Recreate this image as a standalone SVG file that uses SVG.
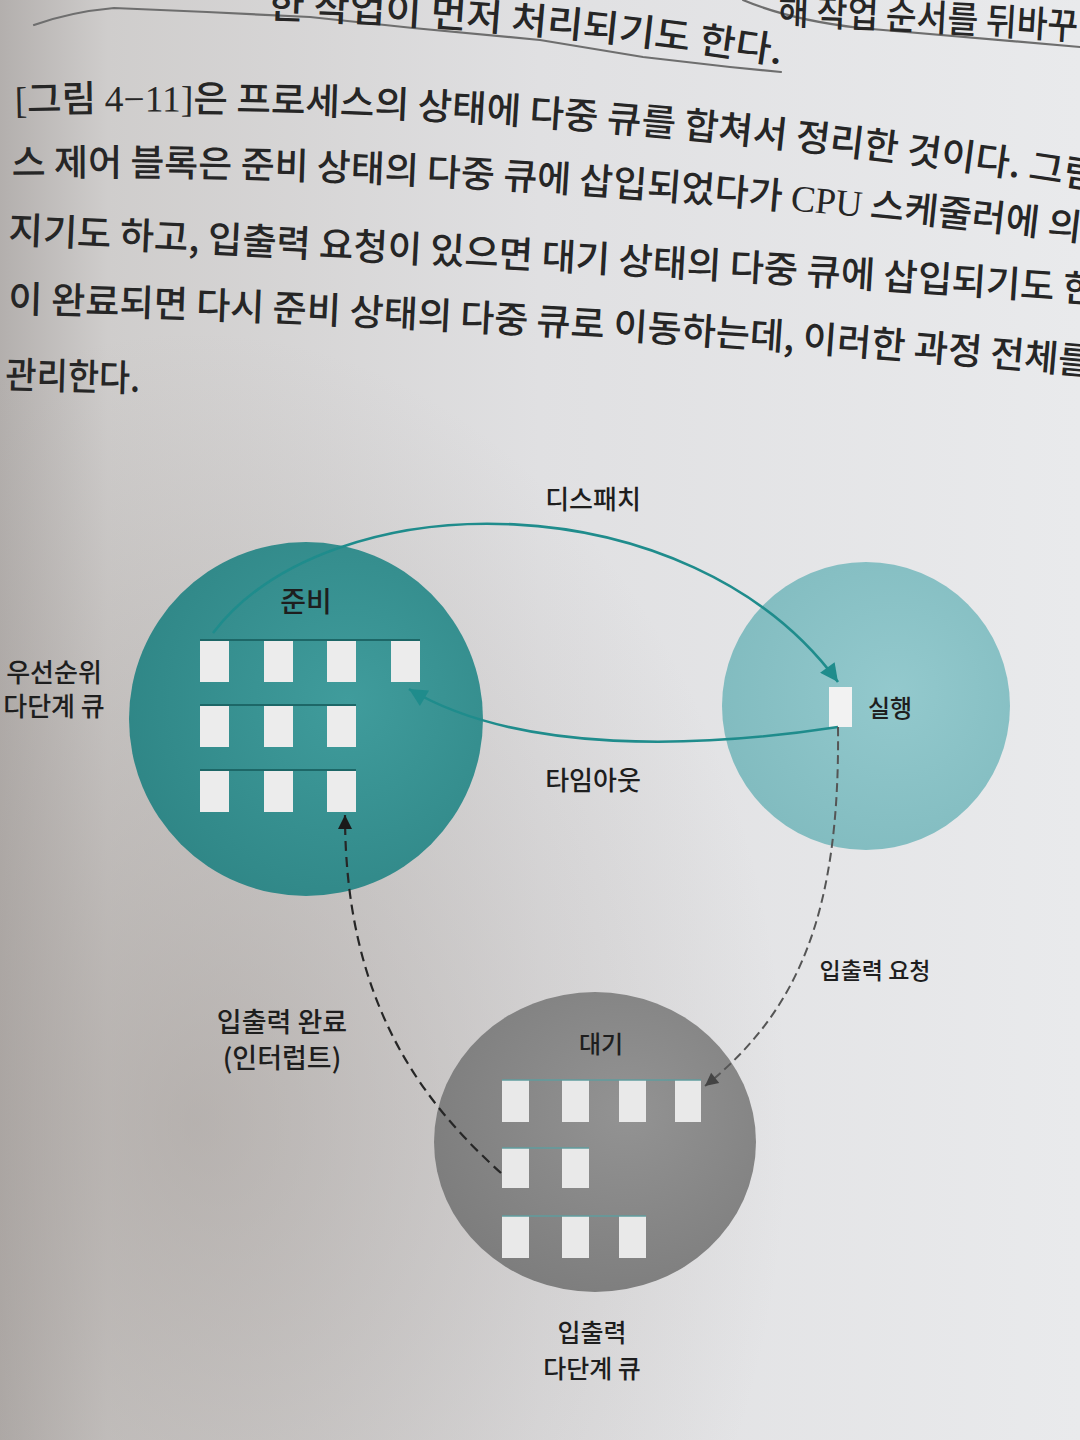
<svg xmlns="http://www.w3.org/2000/svg" width="1080" height="1440" viewBox="0 0 1080 1440">
<style>
.body{font-family:"Noto Sans CJK KR","Noto Sans",sans-serif;font-size:37px;font-weight:500;fill:#262626}
.ser{font-family:"Liberation Serif","Noto Sans CJK KR",serif;font-weight:400}
.lbl{font-family:"Noto Sans CJK KR","Noto Sans",sans-serif;fill:#1e1e1e;text-anchor:middle;font-weight:500}
.pencil{fill:none;stroke:#6e6e6e;stroke-width:2.2;stroke-linecap:round}
.sq{fill:#ececec}
.sqw{fill:#e9e9e9}
.rowline{stroke:#1d6767;stroke-width:2}
.rowlinew{stroke:#5f9c9e;stroke-width:1.6}
.teal{fill:none;stroke:#1f8c8c;stroke-width:2.6}
.dashk{fill:none;stroke:#262626;stroke-width:2.2;stroke-dasharray:10 6}
.dashg{fill:none;stroke:#555;stroke-width:2;stroke-dasharray:9 5}
</style>
<defs>
<linearGradient id="bgH" x1="0" y1="0" x2="1" y2="0">
<stop offset="0" stop-color="#b3afad"/>
<stop offset="0.1" stop-color="#cfcdcc"/>
<stop offset="0.5" stop-color="#e0e0e2"/>
<stop offset="1" stop-color="#e9eaec"/>
</linearGradient>
<radialGradient id="shade" cx="0.18" cy="0.78" r="0.55">
<stop offset="0" stop-color="#9a928d" stop-opacity="0.5"/>
<stop offset="1" stop-color="#9a928d" stop-opacity="0"/>
</radialGradient>
<radialGradient id="gReady" cx="0.62" cy="0.45" r="0.65">
<stop offset="0" stop-color="#409c9c"/>
<stop offset="1" stop-color="#2f8686"/>
</radialGradient>
<radialGradient id="gRun" cx="0.6" cy="0.45" r="0.6">
<stop offset="0" stop-color="#93c9cd"/>
<stop offset="1" stop-color="#82bcc0"/>
</radialGradient>
<radialGradient id="gWait" cx="0.6" cy="0.4" r="0.65">
<stop offset="0" stop-color="#939393"/>
<stop offset="1" stop-color="#7d7d7d"/>
</radialGradient>
<marker id="aTeal" markerUnits="userSpaceOnUse" viewBox="0 0 10 10" refX="10" refY="5" markerWidth="22" markerHeight="18" orient="auto">
<path d="M0,0 L10,5 L0,10 z" fill="#1f8c8c"/>
</marker>
<marker id="aBlack" markerUnits="userSpaceOnUse" viewBox="0 0 10 10" refX="10" refY="5" markerWidth="16" markerHeight="14" orient="auto">
<path d="M0,0 L10,5 L0,10 z" fill="#1a1a1a"/>
</marker>
<marker id="aGray" markerUnits="userSpaceOnUse" viewBox="0 0 10 10" refX="10" refY="5" markerWidth="15" markerHeight="13" orient="auto">
<path d="M0,0 L10,5 L0,10 z" fill="#444"/>
</marker>
<path id="pLm1" d="M778,24 Q900,28 1080,40"/>
<path id="pL0" d="M268,18 Q560,28 790,66"/>
<path id="pL1" d="M15,113 Q520,101 1080,187"/>
<path id="pL2" d="M12,176 Q500,171 1080,241"/>
<path id="pL3" d="M8,243 Q620,270 1080,302"/>
<path id="pL4" d="M8,312 Q560,327 1080,374"/>
<path id="pL5" d="M5,388 L220,394"/>
</defs>

<rect width="1080" height="1440" fill="url(#bgH)"/>
<rect width="1080" height="1440" fill="url(#shade)"/>

<g id="body-text">
<path class="pencil" d="M34,25 Q70,12 114,8 L207,12 L310,17 L413,28 L540,40 L643,57 L730,67 L781,72"/>
<path class="pencil" d="M743,0 Q790,20 860,28 L1080,47"/>
<text class="body"><textPath href="#pLm1" textLength="300" lengthAdjust="spacingAndGlyphs">해 작업 순서를 뒤바꾸</textPath></text>
<text class="body"><textPath href="#pL0" textLength="515" lengthAdjust="spacingAndGlyphs">한 작업이 먼저 처리되기도 한다.</textPath></text>
<text class="body"><textPath href="#pL1" textLength="1085" lengthAdjust="spacingAndGlyphs"><tspan class="ser">[</tspan>그림 <tspan class="ser">4−11]</tspan>은 프로세스의 상태에 다중 큐를 합쳐서 정리한 것이다. 그림</textPath></text>
<text class="body"><textPath href="#pL2" textLength="1105" lengthAdjust="spacingAndGlyphs">스 제어 블록은 준비 상태의 다중 큐에 삽입되었다가 <tspan class="ser">CPU</tspan> 스케줄러에 의해</textPath></text>
<text class="body"><textPath href="#pL3" textLength="1090" lengthAdjust="spacingAndGlyphs">지기도 하고, 입출력 요청이 있으면 대기 상태의 다중 큐에 삽입되기도 한</textPath></text>
<text class="body"><textPath href="#pL4" textLength="1085" lengthAdjust="spacingAndGlyphs">이 완료되면 다시 준비 상태의 다중 큐로 이동하는데, 이러한 과정 전체를</textPath></text>
<text class="body"><textPath href="#pL5" textLength="135" lengthAdjust="spacingAndGlyphs">관리한다.</textPath></text>
</g>

<g id="node-ready">
<circle cx="306" cy="719" r="177" fill="url(#gReady)"/>
<text class="lbl" x="306" y="612" font-size="28">준비</text>
<rect class="sq" x="200" y="640" width="29" height="42"/>
<rect class="sq" x="264" y="640" width="29" height="42"/>
<rect class="sq" x="327" y="640" width="29" height="42"/>
<rect class="sq" x="391" y="640" width="29" height="42"/>
<rect class="sq" x="200" y="705" width="29" height="42"/>
<rect class="sq" x="264" y="705" width="29" height="42"/>
<rect class="sq" x="327" y="705" width="29" height="42"/>
<rect class="sq" x="200" y="770" width="29" height="42"/>
<rect class="sq" x="264" y="770" width="29" height="42"/>
<rect class="sq" x="327" y="770" width="29" height="42"/>
<line class="rowline" x1="200" y1="640" x2="420" y2="640"/>
<line class="rowline" x1="200" y1="705" x2="356" y2="705"/>
<line class="rowline" x1="200" y1="770" x2="356" y2="770"/>
</g>

<g id="label-priority">
<text class="lbl" x="54" y="682" font-size="26">우선순위</text>
<text class="lbl" x="54" y="716" font-size="26">다단계 큐</text>
</g>

<g id="node-running">
<circle cx="866" cy="706" r="144" fill="url(#gRun)"/>
<rect x="829" y="687" width="23" height="40" fill="#f2f2f2"/>
<text class="lbl" x="890" y="717" font-size="24" fill="#2a2a2a">실행</text>
</g>

<g id="node-waiting">
<ellipse cx="595" cy="1142" rx="161" ry="150" fill="url(#gWait)"/>
<text class="lbl" x="601" y="1053" font-size="24">대기</text>
<rect class="sqw" x="502" y="1080" width="27" height="42"/>
<rect class="sqw" x="562" y="1080" width="27" height="42"/>
<rect class="sqw" x="619" y="1080" width="27" height="42"/>
<rect class="sqw" x="675" y="1080" width="26" height="42"/>
<rect class="sqw" x="502" y="1148" width="27" height="40"/>
<rect class="sqw" x="562" y="1148" width="27" height="40"/>
<rect class="sqw" x="502" y="1216" width="27" height="42"/>
<rect class="sqw" x="562" y="1216" width="27" height="42"/>
<rect class="sqw" x="619" y="1216" width="27" height="42"/>
<line class="rowlinew" x1="502" y1="1080" x2="701" y2="1080"/>
<line class="rowlinew" x1="502" y1="1148" x2="589" y2="1148"/>
<line class="rowlinew" x1="502" y1="1216" x2="646" y2="1216"/>
</g>

<g id="label-io-queue">
<text class="lbl" x="592" y="1342" font-size="25">입출력</text>
<text class="lbl" x="592" y="1378" font-size="25">다단계 큐</text>
</g>

<g id="connectors">
<path class="teal" d="M213,633 C330,480 690,480 838,682" marker-end="url(#aTeal)"/>
<path class="teal" d="M838,727 C700,748 520,755 409,689" marker-end="url(#aTeal)"/>
<path class="dashg" d="M838,727 C840,910 800,1010 705,1086" marker-end="url(#aGray)"/>
<path class="dashk" d="M501,1173 C420,1100 345,1000 345,815" marker-end="url(#aBlack)"/>
<text class="lbl" x="593" y="509" font-size="26">디스패치</text>
<text class="lbl" x="593" y="790" font-size="26">타임아웃</text>
<text class="lbl" x="875" y="979" font-size="23" fill="#2c2c2c">입출력 요청</text>
<text class="lbl" x="282" y="1032" font-size="27">입출력 완료</text>
<text class="lbl" x="282" y="1068" font-size="27">(인터럽트)</text>
</g>
</svg>
